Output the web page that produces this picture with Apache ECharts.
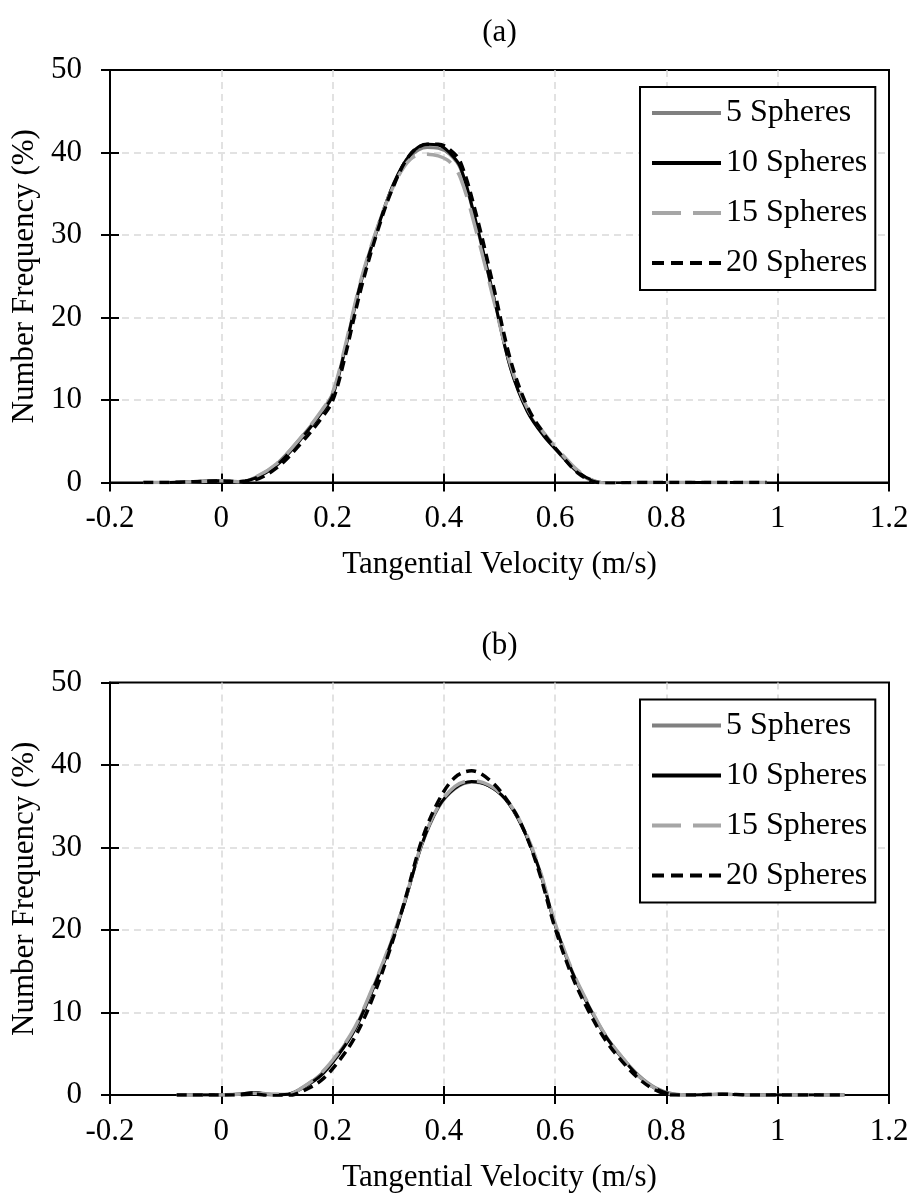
<!DOCTYPE html>
<html>
<head>
<meta charset="utf-8">
<script src="https://cdn.jsdelivr.net/npm/echarts@6/dist/echarts.min.js"></script>
<style>
html,body{margin:0;padding:0;background:#fff;}
#chart{width:913px;height:1198px;}
</style>
</head>
<body>
<div id="chart"></div>
<script>
// ---- data ----
const seriesNames = ['5 Spheres', '10 Spheres', '15 Spheres', '20 Spheres'];
const panelTitles = ['(a)', '(b)'];
const xAxisTitle = 'Tangential Velocity (m/s)';
const yAxisTitle = 'Number Frequency (%)';

// panel (a)
const velA = [-0.14, -0.1, -0.05, 0, 0.03, 0.06, 0.1, 0.14, 0.18, 0.2, 0.22, 0.25, 0.28, 0.31, 0.34, 0.37, 0.39, 0.41, 0.43, 0.46, 0.49, 0.52, 0.55, 0.58, 0.61, 0.64, 0.67, 0.7, 0.75, 0.8, 0.85, 0.9, 0.95, 0.98];
const a5  = [0, 0, 0.1, 0.2, 0.1, 0.6, 2.3, 5.2, 8.6, 10.8, 15.6, 24.2, 30.8, 36.2, 39.5, 40.6, 40.5, 39.8, 38.0, 30.8, 22.3, 13.9, 8.7, 5.7, 3.3, 1.3, 0.1, -0.1, 0, 0, 0, 0, 0, 0];
const a10 = [0, 0, 0.1, 0.2, 0.1, 0.5, 2.1, 5.0, 8.4, 10.5, 15.4, 24.0, 30.6, 36.3, 39.8, 41.0, 40.9, 40.0, 38.2, 31.0, 22.4, 13.8, 8.6, 5.6, 3.4, 1.3, 0.2, -0.1, 0, 0, 0, 0, 0, 0];
const a15 = [0, 0, 0.1, 0.2, 0.1, 0.6, 2.3, 5.2, 8.7, 10.9, 15.8, 24.3, 30.8, 36.0, 39.2, 39.8, 39.6, 38.9, 36.9, 30.0, 22.0, 14.2, 9.0, 6.0, 3.6, 1.5, 0.2, -0.1, 0, 0, 0, 0, 0, 0];
const a20 = [0, 0, 0.1, 0.2, 0.1, 0.3, 1.8, 4.5, 7.8, 9.9, 14.6, 23.2, 30.3, 36.0, 39.8, 41.0, 41.0, 40.4, 38.8, 32.0, 23.5, 14.8, 9.2, 5.9, 3.4, 1.2, 0.1, -0.1, 0, 0, 0, 0, 0, 0];

// panel (b)
const velB = [-0.08, -0.04, 0, 0.03, 0.06, 0.09, 0.12, 0.15, 0.18, 0.21, 0.24, 0.27, 0.3, 0.33, 0.36, 0.39, 0.42, 0.45, 0.48, 0.51, 0.54, 0.57, 0.6, 0.63, 0.66, 0.69, 0.72, 0.75, 0.78, 0.81, 0.85, 0.9, 0.95, 1.0, 1.05, 1.1, 1.12];
const b5  = [0, 0, 0, 0.1, 0.3, 0.1, 0.1, 1.1, 2.6, 5.0, 8.1, 12.6, 17.6, 23.5, 30.2, 34.8, 37.1, 37.9, 37.5, 35.9, 32.7, 27.7, 20.7, 15.1, 10.9, 7.3, 4.6, 2.4, 0.9, 0.2, 0, 0.1, 0, 0, 0, 0, 0];
const b10 = [0, 0, 0, 0.1, 0.3, 0.0, 0.1, 1.0, 2.4, 4.8, 7.9, 12.4, 17.4, 23.4, 30.3, 34.9, 37.2, 38.0, 37.5, 35.9, 32.6, 27.6, 20.6, 15.0, 10.8, 7.2, 4.5, 2.3, 0.8, 0.1, 0, 0.1, 0, 0, 0, 0, 0];
const b15 = [0, 0, 0, 0.1, 0.2, 0.1, 0.1, 1.1, 2.7, 5.1, 8.2, 12.7, 17.7, 23.6, 30.4, 35.0, 37.4, 38.1, 37.6, 36.0, 32.8, 27.8, 20.8, 15.2, 11.0, 7.3, 4.6, 2.3, 0.8, 0.1, 0, 0.1, 0, 0, 0, 0, 0];
const b20 = [0, 0, 0, 0, 0.1, -0.1, -0.1, 0.6, 1.8, 4.0, 7.0, 11.4, 17.0, 23.6, 30.8, 35.6, 38.5, 39.3, 38.3, 36.1, 32.7, 27.3, 20.2, 14.5, 10.2, 6.7, 4.1, 2.0, 0.6, 0, 0, 0.1, 0, 0, 0, 0, 0];

const xMin = -0.2, xMax = 1.2, xStep = 0.2;
const yMin = 0, yMax = 50, yStep = 10;

// ---- styling ----
const FONT = '"Liberation Serif", "Times New Roman", serif';
const FS = 31;
const styles = [
  { color: '#808080', width: 3, type: 'solid', legendType: 'solid' },
  { color: '#000000', width: 3, type: 'solid', legendType: 'solid' },
  { color: '#a6a6a6', width: 3.5, type: [26, 12], legendType: [29, 12] },
  { color: '#000000', width: 3.5, type: [10, 6], legendType: [12, 7] }
];
const grids = [
  { left: 110, top: 70, width: 779, height: 412.5 },
  { left: 110, top: 682.5, width: 779, height: 412.5 }
];
const panels = [
  { vel: velA, vals: [a5, a10, a15, a20] },
  { vel: velB, vals: [b5, b10, b15, b20] }
];

const gridDash = { color: '#d9d9d9', width: 1.5, type: [7, 5] };

const option = {
  animation: false,
  backgroundColor: '#fff',
  textStyle: { fontFamily: FONT },
  grid: grids.map(g => Object.assign({ show: true, borderColor: '#000', borderWidth: 2, backgroundColor: 'transparent' }, g)),
  xAxis: [],
  yAxis: [],
  series: [],
  legend: [],
  graphic: []
};

grids.forEach((g, gi) => {
  option.xAxis.push({
    type: 'value', gridIndex: gi, min: xMin, max: xMax, interval: xStep, position: 'bottom',
    axisLine: { show: true, onZero: false, lineStyle: { color: '#000', width: 2 } },
    axisTick: { show: true, inside: false, length: 9, lineStyle: { color: '#000', width: 2 } },
    axisLabel: { show: true, margin: 21, color: '#000', fontFamily: FONT, fontSize: FS,
      formatter: v => String(Math.round(v * 10) / 10) },
    splitLine: { show: true, showMinLine: false, showMaxLine: false, lineStyle: gridDash },
    name: xAxisTitle, nameLocation: 'middle', nameGap: 67,
    nameTextStyle: { color: '#000', fontFamily: FONT, fontSize: FS }
  });
  option.xAxis.push({
    type: 'value', gridIndex: gi, min: xMin, max: xMax, interval: xStep, position: 'bottom',
    axisLine: { show: false, onZero: false },
    axisTick: { show: true, inside: true, length: 9, lineStyle: { color: '#000', width: 2 } },
    axisLabel: { show: false }, splitLine: { show: false }
  });
  option.yAxis.push({
    type: 'value', gridIndex: gi, min: yMin, max: yMax, interval: yStep, position: 'left',
    axisLine: { show: true, onZero: false, lineStyle: { color: '#000', width: 2 } },
    axisTick: { show: true, inside: false, length: 9, lineStyle: { color: '#000', width: 2 } },
    axisLabel: { show: true, margin: 28, color: '#000', fontFamily: FONT, fontSize: FS },
    splitLine: { show: true, showMinLine: false, showMaxLine: false, lineStyle: gridDash },
    name: yAxisTitle, nameLocation: 'middle', nameGap: 64, nameRotate: 90,
    nameTextStyle: { color: '#000', fontFamily: FONT, fontSize: FS }
  });
  option.yAxis.push({
    type: 'value', gridIndex: gi, min: yMin, max: yMax, interval: yStep, position: 'left',
    axisLine: { show: false, onZero: false },
    axisTick: { show: true, inside: true, length: 9, lineStyle: { color: '#000', width: 2 } },
    axisLabel: { show: false }, splitLine: { show: false }
  });

  const p = panels[gi];
  seriesNames.forEach((name, si) => {
    option.series.push({
      name: name, type: 'line', xAxisIndex: gi * 2, yAxisIndex: gi * 2,
      data: p.vel.map((x, k) => [x, p.vals[si][k]]),
      smooth: 0.35, showSymbol: false, symbol: 'none',
      lineStyle: { color: styles[si].color, width: styles[si].width, type: styles[si].type },
      itemStyle: { color: styles[si].color },
      z: 2 + si
    });
  });

  option.legend.push({
    data: seriesNames.map((n, si) => ({
      name: n,
      lineStyle: { color: styles[si].color, width: 4, type: styles[si].legendType }
    })),
    orient: 'vertical', left: 640, top: g.top + 17,
    itemWidth: 69, itemHeight: 14, itemGap: 14,
    padding: [8, 8, 9, 10],
    borderColor: '#000', borderWidth: 2, backgroundColor: '#fff',
    itemStyle: { opacity: 0 },
    lineStyle: { width: 4 },
    textStyle: { color: '#000', fontFamily: FONT, fontSize: 32, lineHeight: 36 },
    selectedMode: false
  });

  option.graphic.push({
    type: 'text', x: g.left + g.width / 2, y: g.top - 37,
    style: { text: panelTitles[gi], font: FS + 'px ' + FONT, fill: '#000', textAlign: 'center', textVerticalAlign: 'middle' }
  });
});

const chart = echarts.init(document.getElementById('chart'), null, { renderer: 'canvas' });
chart.setOption(option);
</script>
</body>
</html>
